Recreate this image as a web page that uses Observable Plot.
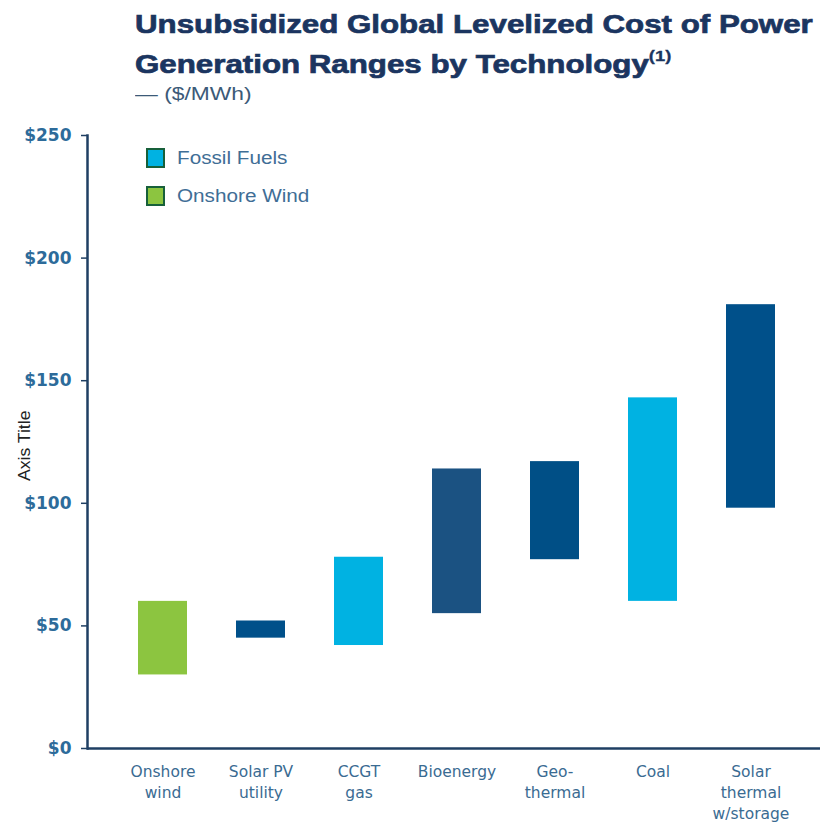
<!DOCTYPE html>
<html>
<head>
<meta charset="utf-8">
<script src="https://cdn.jsdelivr.net/npm/d3@7"></script>
<script src="https://cdn.jsdelivr.net/npm/@observablehq/plot@0.6"></script>
<style>
  html, body { margin: 0; padding: 0; background: #fff; }
  #wrap { position: relative; width: 820px; height: 823px; overflow: hidden; }
  .t { position: absolute; white-space: nowrap; transform-origin: 0 0; font-family: "Liberation Sans", Arial, sans-serif; }
  .title { font-weight: bold; font-size: 25.6px; line-height: 1; color: #1b3560; transform: scaleX(1.222); -webkit-text-stroke: 0.7px #1b3560; }
  .title sup { font-size: 15px; position: relative; top: -2px; -webkit-text-stroke: 0.3px #1b3560; }
  .sub { font-size: 19px; line-height: 1; color: #3c5a78; transform: scaleX(1.2); }
  .leg { font-size: 18px; line-height: 1; color: #3f6e96; transform: scaleX(1.15); }
  .sw { position: absolute; width: 15px; height: 16px; border: 2px solid #17603a; }
  .axt { font-size: 16px; color: #222; transform: rotate(-90deg) scaleX(1.1); transform-origin: 0 0; }
  #chart { position: absolute; left: 0; top: 0; }
</style>
</head>
<body>
<div id="wrap">
  <div id="chart"></div>
</div>
<script>
const titleLines = ["Unsubsidized Global Levelized Cost of Power", "Generation Ranges by Technology"];
const titleNote = "(1)";
const subtitle = "\u2014 ($/MWh)";
const axisTitle = "Axis Title";
const categories = ["Onshore\nwind", "Solar PV\nutility", "CCGT\ngas", "Bioenergy", "Geo-\nthermal", "Coal", "Solar\nthermal\nw/storage"];
const lowValues  = [30, 45, 42, 55, 77, 60, 98];
const highValues = [60, 52, 78, 114, 117, 143, 181];
const groups = ["Onshore Wind", "Solar PV", "Fossil Fuels", "Bioenergy", "Geothermal", "Fossil Fuels", "Solar Thermal"];
const yTicks = [0, 50, 100, 150, 200, 250];
const legendLabels = ["Fossil Fuels", "Onshore Wind"];

const groupDomain = ["Onshore Wind", "Fossil Fuels", "Solar PV", "Bioenergy", "Geothermal", "Solar Thermal"];
const groupColors = ["#8cc540", "#00b2e2", "#00508a", "#1b5282", "#004f86", "#00508a"];

const data = categories.map((c, i) => ({cat: c, lo: lowValues[i], hi: highValues[i], group: groups[i]}));

const axisColor = "#1f3f63";
const chart = Plot.plot({
  width: 820,
  height: 823,
  marginTop: 135,
  marginBottom: 75,
  marginLeft: 87,
  marginRight: -6,
  style: {background: "transparent", fontFamily: "DejaVu Sans", overflow: "hidden"},
  x: {domain: categories, paddingInner: 0.5, paddingOuter: 0.5, axis: null},
  y: {domain: [0, 250], axis: null},
  color: {domain: groupDomain, range: groupColors},
  marks: [
    Plot.barY(data, {x: "cat", y1: "lo", y2: "hi", fill: "group"}),
    Plot.axisX({tickSize: 0, tickPadding: 14, fontSize: 15.5, lineHeight: 1.35, fill: "#3a6b92", label: null}),
    Plot.axisY(yTicks, {tickSize: 6, tickPadding: 10, tickFormat: d => "$" + d, fontSize: 17, fontWeight: "bold", fill: "#2d6b9a", stroke: axisColor, strokeWidth: 1.5, label: null}),
    Plot.ruleY([0], {stroke: axisColor, strokeWidth: 2.5}),
    Plot.frame({anchor: "left", stroke: axisColor, strokeWidth: 2.5})
  ]
});
document.getElementById("chart").appendChild(chart);

const wrap = document.getElementById("wrap");
function addDiv(cls, html, left, top) {
  const d = document.createElement("div");
  d.className = "t " + cls;
  d.innerHTML = html;
  d.style.left = left + "px";
  d.style.top = top + "px";
  wrap.appendChild(d);
  return d;
}
addDiv("title", titleLines[0], 135, 12);
addDiv("title", titleLines[1] + "<sup>" + titleNote + "</sup>", 135, 50);
addDiv("sub", subtitle, 135, 84);
addDiv("axt", axisTitle, 16, 481);

const swColors = [groupColors[groupDomain.indexOf(legendLabels[0])], groupColors[groupDomain.indexOf(legendLabels[1])]];
legendLabels.forEach((lab, i) => {
  const top = 148 + i * 38;
  const sw = document.createElement("div");
  sw.className = "sw";
  sw.style.left = "146px";
  sw.style.top = top + "px";
  sw.style.background = swColors[i];
  wrap.appendChild(sw);
  addDiv("leg", lab, 177, top + 1);
});
</script>
</body>
</html>
